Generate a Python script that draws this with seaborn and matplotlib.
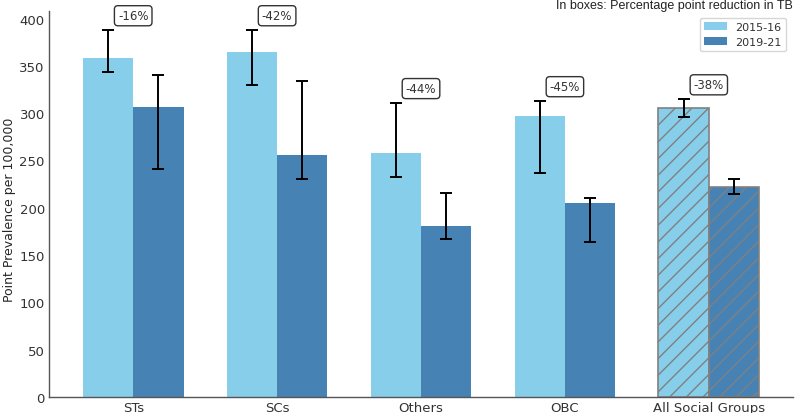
import pandas as pd
import numpy as np
import seaborn as sns
import matplotlib.pyplot as plt

groups = ["STs", "SCs", "Others", "OBC", "All Social Groups"]
years = ["2015-16", "2019-21"]
prev_2015 = [358, 365, 258, 297, 305]
prev_2019 = [307, 256, 181, 205, 222]
low_2015 = [344, 330, 233, 237, 296]
high_2015 = [388, 388, 311, 313, 315]
low_2019 = [241, 230, 167, 164, 215]
high_2019 = [340, 334, 216, 210, 230]
reductions = ["-16%", "-42%", "-44%", "-45%", "-38%"]

sns.set_style("white")
plt.rcParams["font.family"] = ["DejaVu Sans"]
plt.rcParams["text.color"] = "#333333"
plt.rcParams["xtick.color"] = "#333333"
plt.rcParams["ytick.color"] = "#333333"

df = pd.DataFrame({
    "group": groups * 2,
    "year": [years[0]] * 5 + [years[1]] * 5,
    "prev": prev_2015 + prev_2019,
})

fig = plt.figure(figsize=(7.97, 4.14), dpi=100)
ax = fig.add_axes([0.0615, 0.0386, 0.9335, 0.9324])

sns.barplot(data=df, x="group", y="prev", hue="year", order=groups, hue_order=years,
            palette=["#87CEEB", "#4682B4"], width=0.7, gap=0, linewidth=0,
            errorbar=None, saturation=1, ax=ax)

# error bars at bar centres
lows = [low_2015, low_2019]
highs = [high_2015, high_2019]
vals = [prev_2015, prev_2019]
bar_conts = list(ax.containers)
for k, cont in enumerate(bar_conts):
    xs = [p.get_x() + p.get_width() / 2 for p in cont.patches]
    v = np.array(vals[k])
    yerr = [v - np.array(lows[k]), np.array(highs[k]) - v]
    ax.errorbar(xs, v, yerr=yerr, fmt="none", ecolor="black", elinewidth=1.4,
                capsize=4.5, capthick=1.4, zorder=5)
    # hatch the overall group
    p = cont.patches[-1]
    p.set_hatch("//")
    p.set_edgecolor("#808080")
    p.set_linewidth(1.2)

# reduction boxes
for i, lab in enumerate(reductions):
    top = max(high_2015[i], high_2019[i]) + 15
    ax.text(i, top, lab, ha="center", va="center", fontsize=8.5, color="#333333",
            bbox=dict(boxstyle="round,pad=0.3", fc="white", ec="#333333", lw=1))

ax.set_xlim(-0.585, 4.585)
ax.set_ylim(0, 408)
ax.set_yticks(range(0, 401, 50))
ax.set_xlabel("")
ax.set_ylabel("Point Prevalence per 100,000", fontsize=9)
ax.yaxis.set_label_coords(-0.045, 0.488)
ax.tick_params(direction="in", length=3, labelsize=9.5, pad=3)
for s in ["top", "right"]:
    ax.spines[s].set_visible(False)
for s in ["left", "bottom"]:
    ax.spines[s].set_color("#555555")
    ax.spines[s].set_linewidth(1)

ax.legend(title=None, loc="upper right", fontsize=8, frameon=True,
          edgecolor="#cccccc", handlelength=2.0, labelspacing=0.4,
          borderaxespad=0.6)
ax.set_title("In boxes: Percentage point reduction in TB", loc="right",
             fontsize=9, family="Liberation Sans", color="#222222", pad=2)

fig.savefig("out.png", dpi=100)
